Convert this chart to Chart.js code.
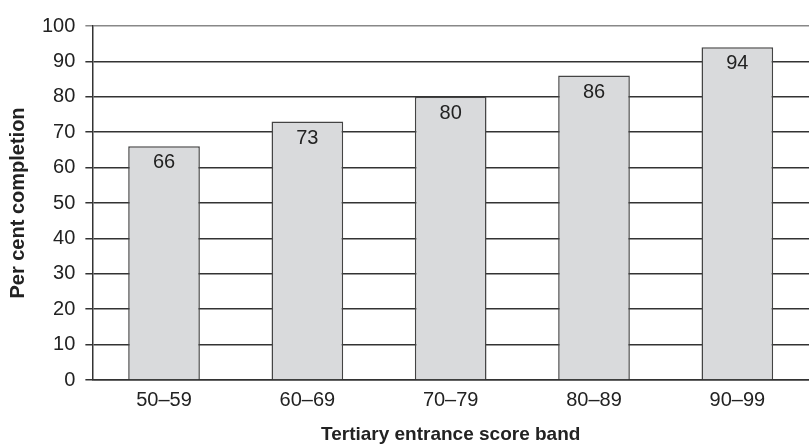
<!DOCTYPE html>
<html>
<head>
<meta charset="utf-8">
<script src="https://cdn.jsdelivr.net/npm/chart.js@4"></script>
<style>
  html, body { margin: 0; padding: 0; background: #fff; }
</style>
</head>
<body>
<canvas id="myChart" width="809" height="444"></canvas>
<script>
const categories = ["50–59", "60–69", "70–79", "80–89", "90–99"];
const completion = [66, 73, 80, 86, 94];
const yTicks = [0, 10, 20, 30, 40, 50, 60, 70, 80, 90, 100];

const FONT = "'Liberation Sans', Arial, sans-serif";

// draws the value inside each bar, near its top
const valueLabels = {
  id: "valueLabels",
  afterDatasetsDraw(chart) {
    const ctx = chart.ctx;
    const meta = chart.getDatasetMeta(0);
    ctx.save();
    ctx.font = "20px " + FONT;
    ctx.fillStyle = "#222";
    ctx.textAlign = "center";
    ctx.textBaseline = "alphabetic";
    meta.data.forEach((bar, i) => {
      ctx.fillText(String(completion[i]), bar.x, bar.y + 22);
    });
    ctx.restore();
  },
};

const ctx = document.getElementById("myChart").getContext("2d");
const myChart = new Chart(ctx, {
  type: "bar",
  data: {
    labels: categories,
    datasets: [
      {
        label: "Per cent completion",
        data: completion,
        backgroundColor: "#d9dadc",
        borderColor: "#444",
        borderWidth: 1.5,
        borderSkipped: "bottom",
        categoryPercentage: 1,
        barPercentage: 0.5,
      },
    ],
  },
  options: {
    responsive: false,
    animation: false,
    layout: { padding: { top: 26, right: 0, left: 6, bottom: 0 } },
    plugins: {
      legend: { display: false },
      tooltip: { enabled: false },
    },
    scales: {
      x: {
        grid: { display: false, drawTicks: false },
        border: { display: true, color: "#333", width: 1.5 },
        ticks: { color: "#222", font: { family: FONT, size: 20 }, padding: 8 },
        title: {
          display: true,
          text: "Tertiary entrance score band",
          color: "#222",
          font: { family: FONT, size: 19, weight: "bold", lineHeight: 1 },
          padding: { top: 5, bottom: 0 },
        },
      },
      y: {
        min: 0,
        max: 100,
        afterBuildTicks(scale) {
          scale.ticks = yTicks.map((v) => ({ value: v }));
        },
        grid: {
          color: (c) => (c.tick && c.tick.value === 100 ? "#888" : "#333"),
          lineWidth: 1.5,
          drawTicks: true,
          tickLength: 7,
        },
        border: { display: true, color: "#333", width: 1.5 },
        ticks: { color: "#222", font: { family: FONT, size: 20 }, padding: 10 },
        title: {
          display: true,
          text: "Per cent completion",
          color: "#222",
          font: { family: FONT, size: 20, weight: "bold" },
          padding: { top: 0, bottom: 2 },
        },
      },
    },
  },
  plugins: [valueLabels],
});
</script>
</body>
</html>
